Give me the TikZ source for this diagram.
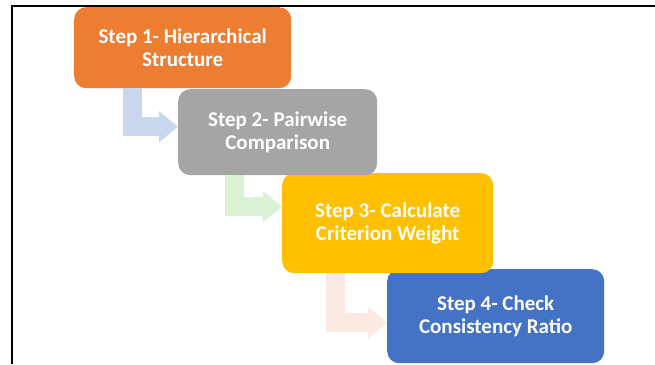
\documentclass[tikz,border=0pt]{standalone}
\usepackage{fontspec}
\setmainfont{Carlito}
\usetikzlibrary{arrows.meta}
\definecolor{cOrange}{HTML}{ED7D31}
\definecolor{cGray}{HTML}{A5A5A5}
\definecolor{cYellow}{HTML}{FFC000}
\definecolor{cBlue}{HTML}{4472C4}
\definecolor{aBlue}{HTML}{C9D7EE}
\definecolor{aGreen}{HTML}{DAF2D2}
\definecolor{aPink}{HTML}{FCE9E2}
\tikzset{
  stepbox/.style={draw=none, rounded corners=12pt, anchor=north west, inner sep=0pt,
    align=center, text=white, font=\bfseries\fontsize{21}{22.5}\selectfont},
  bentarrow/.style={line width=19pt, draw=#1, -{Triangle[width=30pt,length=19pt]}},
  frameline/.style={line width=1.8pt, black}
}
\begin{document}
\begin{tikzpicture}[x=1pt,y=-1pt]
\useasboundingbox (0,0) rectangle (655,364);
\fill[white] (0,0) rectangle (655,364);
% frame
\coordinate (fl) at (12,364);
\coordinate (ftl) at (12,5.8);
\coordinate (ftr) at (655,5.8);
\draw[frameline] (fl) -- (ftl) -- (ftr);
% boxes (later ones drawn first so earlier ones lie on top)
\node[stepbox, fill=cBlue, minimum width=217pt, minimum height=94pt] (b4) at (387,269) {Step 4- Check\\Consistency Ratio};
\node[stepbox, fill=cYellow, minimum width=211pt, minimum height=100pt] (b3) at (282,173) {Step 3- Calculate\\Criterion Weight};
\node[stepbox, fill=cGray, minimum width=199pt, minimum height=86pt] (b2) at (178,89) {Step 2- Pairwise\\Comparison};
\node[stepbox, fill=cOrange, minimum width=217pt, minimum height=81pt] (b1) at (74,7) {Step 1- Hierarchical\\Structure};
% bent arrows
\draw[bentarrow=aBlue] ([xshift=58.5pt]b1.south west) |- ([yshift=5.5pt]b2.west);
\draw[bentarrow=aGreen] ([xshift=56.5pt]b2.south west) |- ([yshift=16.5pt]b3.west);
\draw[bentarrow=aPink] ([xshift=53.5pt]b3.south west) |- ([yshift=-6.5pt]b4.west);
\end{tikzpicture}
\end{document}
